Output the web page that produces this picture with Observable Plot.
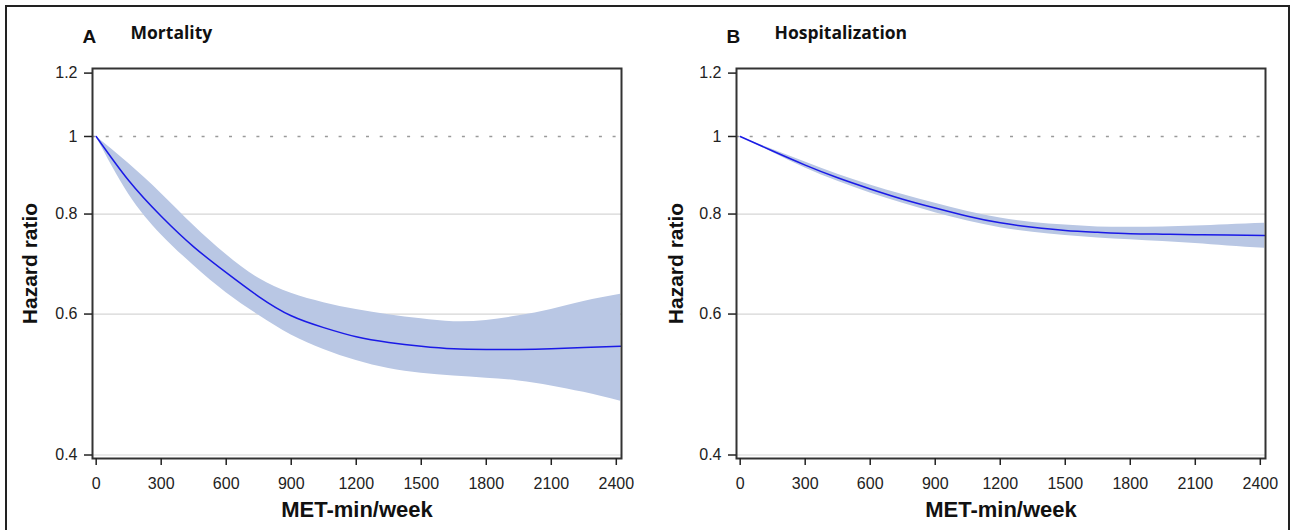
<!DOCTYPE html>
<html><head><meta charset="utf-8">
<script src="https://cdn.jsdelivr.net/npm/d3@7"></script>
<script src="https://cdn.jsdelivr.net/npm/@observablehq/plot@0.6"></script>
<style>
html,body{margin:0;padding:0;background:#fff;}
#wrap{position:relative;width:1292px;height:530px;overflow:hidden;}
#border{position:absolute;left:5px;top:5px;width:1285px;height:560px;border:2px solid #222;box-sizing:border-box;}
#a{position:absolute;left:0;top:0;}
#b{position:absolute;left:646px;top:0;}
</style></head><body>
<div id="wrap"><div id="border"></div><div id="a"></div><div id="b"></div></div>
<script>
// MET-min/week sample points
const met = [0, 150, 300, 450, 600, 750, 900, 1050, 1200, 1350, 1500, 1650, 1800, 1950, 2100, 2250, 2420];

// Panel A: Mortality
const mortHR    = [1.0, 0.881, 0.795, 0.728, 0.676, 0.631, 0.597, 0.577, 0.562, 0.553, 0.547, 0.543, 0.542, 0.542, 0.543, 0.545, 0.547];
const mortLower = [1.0, 0.847, 0.754, 0.690, 0.638, 0.598, 0.565, 0.542, 0.525, 0.513, 0.506, 0.502, 0.499, 0.495, 0.488, 0.479, 0.467];
const mortUpper = [1.0, 0.925, 0.849, 0.774, 0.712, 0.665, 0.637, 0.620, 0.608, 0.599, 0.592, 0.587, 0.589, 0.597, 0.608, 0.622, 0.635];

// Panel B: Hospitalization
const hospHR    = [1.0, 0.959, 0.921, 0.888, 0.860, 0.835, 0.814, 0.795, 0.780, 0.770, 0.763, 0.759, 0.756, 0.755, 0.754, 0.753, 0.752];
const hospLower = [1.0, 0.955, 0.913, 0.879, 0.850, 0.825, 0.803, 0.784, 0.769, 0.759, 0.752, 0.747, 0.743, 0.739, 0.735, 0.730, 0.725];
const hospUpper = [1.0, 0.963, 0.929, 0.897, 0.870, 0.846, 0.825, 0.806, 0.791, 0.781, 0.775, 0.771, 0.770, 0.771, 0.773, 0.776, 0.779];

const xTicks = [0, 300, 600, 900, 1200, 1500, 1800, 2100, 2400];
const yTicks = [0.4, 0.6, 0.8, 1, 1.2];
const gridVals = [0.4, 0.6, 0.8];
const refVal = [1];
const xLabel = "MET-min/week";
const yLabel = "Hazard ratio";

function panel(letter, title, mid, lo, hi, ml, mr) {
  const data = met.map((x, i) => ({x, mid: mid[i], lo: lo[i], hi: hi[i]}));
  return Plot.plot({
    width: 646, height: 530,
    marginLeft: ml, marginRight: mr, marginTop: 68, marginBottom: 72,
    style: {fontFamily: "'Liberation Sans', Arial, sans-serif", fontSize: "16px", color: "#222", background: "transparent"},
    x: {domain: [-17, 2424]},
    y: {type: "log", domain: [0.396, 1.216]},
    marks: [
      Plot.ruleY(gridVals, {stroke: "#d6d6d6", strokeWidth: 1.2}),
      Plot.ruleY(refVal, {stroke: "#9a9a9a", strokeWidth: 1.3, strokeDasharray: "3,10.7"}),
      Plot.areaY(data, {x: "x", y1: "lo", y2: "hi", fill: "#b9c7e4", fillOpacity: 1, curve: "natural"}),
      Plot.lineY(data, {x: "x", y: "mid", stroke: "#1a1ae6", strokeWidth: 1.5, curve: "natural"}),
      Plot.frame({stroke: "#333", strokeWidth: 2}),
      Plot.axisX({ticks: xTicks, tickFormat: d => String(d), tickSize: 7, tickPadding: 12, strokeWidth: 1.5, fontSize: 16, label: null}),
      Plot.axisY({ticks: yTicks, tickFormat: d => String(d), tickSize: 8, tickPadding: 7, strokeWidth: 1.5, fontSize: 16, label: null}),
      Plot.text([xLabel], {frameAnchor: "bottom", dy: 51, lineAnchor: "middle", fontSize: 22, fontWeight: "bold", fill: "#111"}),
      Plot.text([yLabel], {frameAnchor: "left", dx: 29.5 - ml, rotate: -90, textAnchor: "middle", lineAnchor: "middle", fontSize: 21, fontWeight: "bold", fill: "#111"}),
      Plot.text([letter], {frameAnchor: "top-left", dx: -10, dy: -32, textAnchor: "start", lineAnchor: "middle", fontSize: 19, fontWeight: "bold", fill: "#111"}),
      Plot.text([title], {frameAnchor: "top-left", dx: 38, dy: -35.5, textAnchor: "start", lineAnchor: "middle", fontSize: 17.5, fontWeight: "bold", fontFamily: "'Open Sans', sans-serif", fill: "#111"})
    ]
  });
}

document.getElementById("a").append(panel("A", "Mortality", mortHR, mortLower, mortUpper, 92, 25));
document.getElementById("b").append(panel("B", "Hospitalization", hospHR, hospLower, hospUpper, 90, 27));
</script>
</body></html>
